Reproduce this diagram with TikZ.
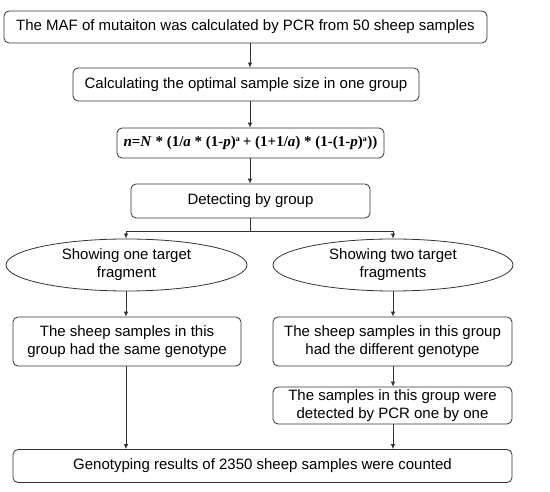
\documentclass[tikz,border=0pt]{standalone}
\usepackage{fontspec}
\setmainfont{Liberation Sans}
\newfontfamily\formfont{Liberation Serif}
\usetikzlibrary{arrows.meta,shapes.geometric}
\begin{document}
\begin{tikzpicture}[x=1pt,y=-1pt,
  every node/.style={font=\fontsize{15}{18}\selectfont, text=black, inner sep=0pt},
  box/.style={draw=black!80, line width=0.8pt, rounded corners=5pt, align=center},
  oval/.style={draw=black!80, line width=0.8pt, ellipse, align=center},
  arr/.style={draw=black!80, line width=0.8pt, -{Latex[length=5pt,width=4.5pt]}},
  ln/.style={draw=black!80, line width=0.8pt}]
\useasboundingbox (0,0) rectangle (550,492);
\node[box, minimum width=483pt, minimum height=32pt] (b1) at (245.5,27) {The MAF of mutaiton was calculated by PCR from 50 sheep samples};
\node[box, minimum width=346pt, minimum height=33pt] (b2) at (246,84.5) {Calculating the optimal sample size in one group};
\node[box, minimum width=267pt, minimum height=30pt, font=\formfont\bfseries\fontsize{15}{17}\selectfont] (b3) at (250.5,143) {\textit{n}=\textit{N} * (1/\textit{a} * (1-\textit{p})\textsuperscript{\fontsize{8}{9}\selectfont a}\,+ (1+1/\textit{a}) * (1-(1-\textit{p})\textsuperscript{\fontsize{8}{9}\selectfont a}))};
\node[box, minimum width=239pt, minimum height=34pt] (b4) at (250.5,201) {Detecting by group};
\node[oval, minimum width=241pt, minimum height=52pt] (e1) at (126.5,265) {Showing one target\\fragment};
\node[oval, minimum width=240pt, minimum height=52pt] (e2) at (393,265) {Showing two target\\fragments};
\node[box, minimum width=228pt, minimum height=49pt] (l1) at (127,341.5) {The sheep samples in this\\group had the same genotype};
\node[box, minimum width=239pt, minimum height=49pt] (r1) at (392.5,341.5) {The sheep samples in this group\\had the different genotype};
\node[box, minimum width=239pt, minimum height=37pt] (r2) at (392.5,405.5) {The samples in this group were\\detected by PCR one by one};
\node[box, minimum width=499pt, minimum height=33pt] (f) at (262.5,466) {Genotyping results of 2350 sheep samples were counted};
\coordinate (j) at (250,231);
\coordinate (jl) at (126,231);
\coordinate (jr) at (393,231);
\draw[arr] (b1.south -| j) -- (b2.north -| j);
\draw[arr] (b2.south -| j) -- (b3.north -| j);
\draw[arr] (b3.south -| j) -- (b4.north -| j);
\draw[ln] (b4.south -| j) -- (j);
\draw[arr] (j) -- (jl) -- (e1.north -| jl);
\draw[arr] (j) -- (jr) -- (e2.north -| jr);
\draw[arr] (e1.south -| jl) -- (l1.north -| jl);
\draw[arr] (e2.south -| jr) -- (r1.north -| jr);
\draw[arr] (r1.south -| jr) -- (r2.north -| jr);
\draw[arr] (l1.south -| jl) -- (f.north -| jl);
\draw[arr] (r2.south -| jr) -- (f.north -| jr);
\end{tikzpicture}
\end{document}
